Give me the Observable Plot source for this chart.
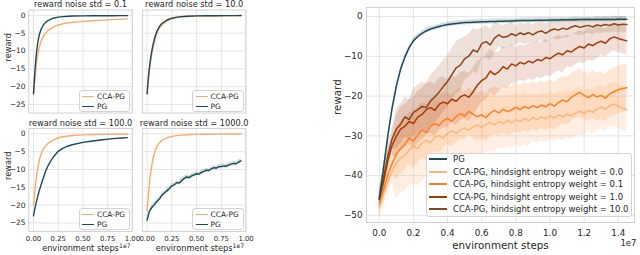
<!DOCTYPE html>
<html>
<head>
<meta charset="utf-8">
<script src="https://cdn.jsdelivr.net/npm/d3@7"></script>
<script src="https://cdn.jsdelivr.net/npm/@observablehq/plot@0.6"></script>
<style>
html,body{margin:0;padding:0;background:#fff;}
#root{position:relative;width:640px;height:255px;overflow:hidden;font-family:"DejaVu Sans",sans-serif;color:#262626;}
.abs{position:absolute;}
.abs svg{overflow:visible;display:block;}
.legend{position:absolute;background:rgba(255,255,255,0.8);border:1px solid #d4d4d4;border-radius:3px;box-sizing:border-box;}
.legend .sw{position:absolute;height:0;border-top-style:solid;}
.legend .lb{position:absolute;white-space:nowrap;line-height:1;transform:translateY(-50%);color:#262626;}
</style>
</head>
<body>
<div id="root"></div>
<script>
// ---------------- data: small panels ----------------
const smallTitles = ["reward noise std = 0.1", "reward noise std = 10.0", "reward noise std = 100.0", "reward noise std = 1000.0"];
const smallXTicks = [0, 0.25, 0.5, 0.75, 1.0];
const smallYTicks = [0, -5, -10, -15, -20, -25];
const smallLegendLabels = ["CCA-PG", "PG"];

const smallSteps = [0, 0.01, 0.02, 0.03, 0.04, 0.05, 0.06, 0.08, 0.1, 0.125, 0.15, 0.2, 0.25, 0.3, 0.35, 0.4, 0.5, 0.6, 0.7, 0.8, 0.9, 0.95];

const pgStd01  = [-22, -17.5, -13.5, -10.5, -8.3, -6.6, -5.3, -3.7, -2.7, -1.9, -1.4, -0.8, -0.5, -0.35, -0.25, -0.2, -0.15, -0.12, -0.1, -0.1, -0.08, -0.08];
const ccaStd01 = [-22, -19, -16, -13.5, -11.5, -10, -8.8, -7, -5.8, -4.9, -4.2, -3.3, -2.7, -2.35, -2.1, -1.95, -1.7, -1.5, -1.35, -1.2, -1.05, -1.0];

const pgStd10  = [-22, -18.5, -15.5, -13.2, -11.2, -9.6, -8.2, -6, -4.4, -3.1, -2.3, -1.3, -0.8, -0.5, -0.35, -0.25, -0.15, -0.12, -0.1, -0.08, -0.07, -0.06];
const ccaStd10 = [-22, -19, -16.3, -14, -12, -10.4, -9, -6.8, -5, -3.6, -2.7, -1.6, -1, -0.65, -0.45, -0.32, -0.2, -0.15, -0.12, -0.1, -0.08, -0.07];

const pgStd100  = [-23, -21.5, -20.2, -19, -17.8, -16.8, -15.8, -14, -12.3, -10.3, -8.8, -6.5, -4.9, -4.0, -3.4, -3.0, -2.4, -2.0, -1.65, -1.35, -1.15, -1.05];
const ccaStd100 = [-20, -17, -14.3, -12, -10.2, -8.6, -7.2, -5.4, -4.2, -3.3, -2.6, -1.7, -1.1, -0.8, -0.6, -0.45, -0.3, -0.2, -0.15, -0.12, -0.1, -0.1];

const ccaStd1000 = [-21.5, -18, -15, -12.3, -10.2, -8.4, -6.9, -4.8, -3.5, -2.5, -1.8, -1.1, -0.7, -0.5, -0.35, -0.25, -0.15, -0.1, -0.08, -0.06, -0.05, -0.05];
const steps1000 = [0, 0.025, 0.05, 0.075, 0.1, 0.125, 0.15, 0.175, 0.2, 0.225,
                   0.25, 0.275, 0.3, 0.325, 0.35, 0.375, 0.4, 0.425, 0.45, 0.475,
                   0.5, 0.525, 0.55, 0.575, 0.6, 0.625, 0.65, 0.675, 0.7, 0.725,
                   0.75, 0.775, 0.8, 0.825, 0.85, 0.875, 0.9, 0.925, 0.95];
const pgStd1000 = [-24.2, -21.6, -20.6, -19.8, -18.9, -18.3, -17.2, -16.6, -16.0, -15.4,
                   -14.6, -14.3, -13.7, -13.8, -13.1, -12.5, -12.1, -12.3, -11.8, -11.5,
                   -11.2, -11.3, -10.8, -10.5, -10.2, -10.3, -9.8, -9.5, -9.6, -9.2,
                   -9.2, -9.0, -9.1, -8.7, -8.5, -8.3, -8.4, -7.9, -7.6];
const pgStd1000Spread = 0.6;

// ---------------- data: large panel ----------------
const bigXTicks = [0, 0.2, 0.4, 0.6, 0.8, 1.0, 1.2, 1.4];
const bigYTicks = [0, -10, -20, -30, -40, -50];
const bigLegendLabels = ["PG",
  "CCA-PG, hindsight entropy weight = 0.0",
  "CCA-PG, hindsight entropy weight = 0.1",
  "CCA-PG, hindsight entropy weight = 1.0",
  "CCA-PG, hindsight entropy weight = 10.0"];

const bigSteps = [0, 0.025, 0.05, 0.075, 0.1, 0.125, 0.15, 0.175, 0.2, 0.225,
                  0.25, 0.275, 0.3, 0.325, 0.35, 0.375, 0.4, 0.425, 0.45, 0.475,
                  0.5, 0.525, 0.55, 0.575, 0.6, 0.625, 0.65, 0.675, 0.7, 0.725,
                  0.75, 0.775, 0.8, 0.825, 0.85, 0.875, 0.9, 0.925, 0.95, 0.975,
                  1.0, 1.025, 1.05, 1.075, 1.1, 1.125, 1.15, 1.175, 1.2, 1.225,
                  1.25, 1.275, 1.3, 1.325, 1.35, 1.375, 1.4, 1.425, 1.45];

const bigPG = [-46, -38, -30, -23, -17.5, -13.2, -10.2, -7.8, -6.1, -5.0,
               -4.2, -3.6, -3.1, -2.8, -2.5, -2.2, -2.0, -1.85, -1.7, -1.6,
               -1.5, -1.45, -1.4, -1.35, -1.3, -1.3, -1.25, -1.2, -1.15, -1.15,
               -1.1, -1.1, -1.05, -1.0, -1.0, -0.95, -0.95, -0.9, -0.9, -0.9,
               -0.85, -0.85, -0.85, -0.8, -0.8, -0.8, -0.8, -0.75, -0.75, -0.75,
               -0.75, -0.7, -0.7, -0.7, -0.7, -0.7, -0.65, -0.65, -0.65];
const bigPGSpread = 0.6;

const bigW00 = [-48.0, -44.8, -41.6, -38.9, -36.8, -35.6, -34.9, -33.5, -32.6, -33.2,
                -31.8, -31.1, -31.7, -30.4, -29.9, -30.6, -29.3, -28.7, -29.4, -28.5,
                -28.0, -28.6, -27.7, -27.3, -27.9, -27.1, -26.6, -27.2, -26.4, -26.9,
                -26.1, -26.7, -25.9, -26.4, -25.6, -26.2, -25.4, -25.9, -25.2, -25.7,
                -24.9, -25.5, -24.7, -25.2, -24.5, -25.0, -24.3, -23.8, -24.4, -23.6,
                -24.1, -23.2, -22.7, -23.3, -22.4, -22.0, -22.6, -23.0, -23.4];
const bigW01 = [-47.0, -43.5, -39.8, -37.0, -34.6, -33.2, -32.1, -30.6, -31.3, -29.8,
                -28.5, -29.2, -27.6, -26.9, -27.4, -26.2, -25.6, -26.3, -25.1, -24.4,
                -25.0, -23.8, -24.6, -25.2, -24.7, -25.4, -24.3, -23.6, -24.2, -23.3,
                -23.9, -23.5, -22.8, -23.4, -22.6, -23.1, -22.4, -22.9, -22.2, -22.7,
                -21.9, -22.5, -21.6, -21.0, -21.4, -20.3, -19.6, -19.1, -19.8, -20.4,
                -19.6, -20.2, -19.8, -20.5, -19.4, -18.9, -18.4, -18.1, -17.9];
const bigW1 = [-46.0, -41.5, -36.3, -32.4, -30.1, -28.3, -27.6, -26.4, -26.9, -25.3,
               -24.6, -23.4, -22.9, -23.6, -22.1, -21.5, -21.9, -20.8, -21.3, -20.2,
               -19.7, -20.3, -18.9, -17.2, -16.1, -15.4, -13.7, -14.6, -13.9, -12.6,
               -13.2, -11.9, -12.4, -11.5, -11.9, -11.2, -11.6, -10.8, -11.1, -10.3,
               -10.6, -9.8, -9.2, -9.6, -8.6, -8.9, -8.1, -7.5, -7.9, -6.9,
               -7.3, -6.6, -6.2, -6.7, -5.6, -5.1, -5.5, -5.8, -6.1];
const bigW10 = [-45.5, -40.5, -35.0, -30.8, -28.3, -27.0, -25.2, -25.9, -24.1, -23.4,
                -22.6, -22.9, -21.3, -20.2, -19.0, -17.6, -16.3, -14.6, -12.9, -12.2,
                -10.6, -9.9, -8.4, -8.9, -6.8, -6.3, -7.1, -5.4, -4.6, -5.2,
                -5.0, -4.3, -4.8, -4.1, -4.5, -4.0, -4.6, -3.9, -3.6, -4.2,
                -3.5, -3.1, -3.4, -2.9, -3.2, -2.6, -2.3, -2.7, -2.4, -2.2,
                -2.6, -2.1, -2.3, -2.0, -2.2, -1.8, -2.1, -1.9, -2.0];

// band half-widths per 0.1e7 bin of environment steps
const spreadW00 = [3, 9, 9.5, 9, 8, 7.5, 7, 6.5, 6.5, 6, 6, 6, 5.5, 5.5, 5.5];
const spreadW01 = [2.5, 6.5, 7, 7, 6.5, 6, 6, 6, 6, 6, 6, 6, 6, 6, 6];
const spreadW1  = [2.5, 5.5, 6.5, 6.5, 6, 6, 5.5, 5, 4.5, 4.5, 4.5, 4, 4, 3.5, 3.5];
const spreadW10 = [2.5, 5, 6, 6.5, 6.5, 5.5, 4, 3, 2.5, 2.5, 2.5, 2.2, 2, 2, 2];

// ---------------- styles ----------------
const pgColor = "#1b4b57";
const ccaSmallColor = "#fcaa68";
const bigColors = ["#1b4b57", "#fdb57a", "#fd8024", "#a63a08", "#8c4418"];
const gridColor = "#e5e5e5";
const frameColor = "#d2d2d2";
const textColor = "#262626";
const fInt = d3.format("d");

const root = document.getElementById("root");
function place(node, left, top) {
  const d = document.createElement("div");
  d.className = "abs";
  d.style.left = left + "px";
  d.style.top = top + "px";
  d.appendChild(node);
  root.appendChild(d);
}
function toRows(xs, ys) { return xs.map((x, i) => ({x, y: ys[i]})); }

function smallPanel({col, row, title, pg, cca, pgX, pgSpread}) {
  const left = col === 0 ? 0 : 137;
  const top = row === 0 ? 0 : 117;
  const width = col === 0 ? 136 : 113;
  const height = row === 0 ? 117 : 138;
  const mL = col === 0 ? 28.3 : 4.9;
  const mR = width - mL - 103.4;
  const mT = row === 0 ? 9.5 : 11;
  const mB = height - mT - 103;
  const pgRows = toRows(pgX || smallSteps, pg);
  const ccaRows = toRows(smallSteps, cca);
  const marks = [
    Plot.gridX(smallXTicks, {stroke: gridColor, strokeOpacity: 1}),
    Plot.gridY(smallYTicks, {stroke: gridColor, strokeOpacity: 1}),
    Plot.frame({stroke: frameColor, strokeWidth: 1}),
  ];
  if (pgSpread) {
    marks.push(Plot.areaY(pgRows, {x: "x", y1: d => d.y - pgSpread, y2: d => d.y + pgSpread, fill: pgColor, fillOpacity: 0.18}));
  }
  marks.push(Plot.line(ccaRows, {x: "x", y: "y", stroke: ccaSmallColor, strokeWidth: 1.4}));
  marks.push(Plot.line(pgRows, {x: "x", y: "y", stroke: pgColor, strokeWidth: 1.4}));
  marks.push(Plot.text([title], {text: d => d, frameAnchor: "top", lineAnchor: "middle", dy: -5.6, fontSize: 8.2, fill: textColor}));
  if (col === 0) {
    marks.push(Plot.axisY(smallYTicks, {anchor: "left", tickSize: 0, tickPadding: 3.3, tickFormat: fInt, label: null, fill: textColor}));
    marks.push(Plot.text(["reward"], {text: d => d, frameAnchor: "left", lineAnchor: "middle", rotate: -90, dx: -20.5, fontSize: 8.2, fill: textColor}));
  }
  if (row === 1) {
    marks.push(Plot.axisX(smallXTicks, {anchor: "bottom", tickSize: 0, tickPadding: 5, tickFormat: d3.format(".2f"), label: null, fill: textColor, fontSize: 6.9}));
    marks.push(Plot.text(["environment steps"], {text: d => d, frameAnchor: "bottom", lineAnchor: "middle", dy: 17, fontSize: 8.2, fill: textColor}));
    marks.push(Plot.text(["1e7"], {text: d => d, frameAnchor: "bottom-right", lineAnchor: "middle", textAnchor: "end", dx: -1.5, dy: 15, fontSize: 6.2, fill: textColor}));
  }
  const svg = Plot.plot({
    width, height, marginLeft: mL, marginRight: mR, marginTop: mT, marginBottom: mB,
    x: {domain: [-0.0475, 0.9975], axis: null},
    y: {domain: [-27.4, 1.5], axis: null},
    style: {fontFamily: "DejaVu Sans, sans-serif", fontSize: "7.4px", background: "transparent", color: textColor, overflow: "visible"},
    marks
  });
  place(svg, left, top);
  legend({left: left + mL + 50.2, top: top + mT + 80, width: 51.5, height: 22,
    entries: [{label: smallLegendLabels[0], color: ccaSmallColor}, {label: smallLegendLabels[1], color: pgColor}],
    rowY0: 7.3, rowGap: 9.7, lineX0: 3.5, lineX1: 15.5, textX: 18.5, fontSize: 7.4, lineWidth: 1.8});
}

function legend({left, top, width, height, entries, rowY0, rowGap, lineX0, lineX1, textX, fontSize, lineWidth}) {
  const box = document.createElement("div");
  box.className = "legend";
  box.style.left = left + "px";
  box.style.top = top + "px";
  box.style.width = width + "px";
  box.style.height = height + "px";
  entries.forEach((e, i) => {
    const y = rowY0 + i * rowGap - 1;
    const sw = document.createElement("div");
    sw.className = "sw";
    sw.style.left = (lineX0 - 1) + "px";
    sw.style.width = (lineX1 - lineX0) + "px";
    sw.style.top = (y - lineWidth / 2) + "px";
    sw.style.borderTopWidth = lineWidth + "px";
    sw.style.borderTopColor = e.color;
    box.appendChild(sw);
    const lb = document.createElement("div");
    lb.className = "lb";
    lb.style.left = (textX - 1) + "px";
    lb.style.top = y + "px";
    lb.style.fontSize = fontSize + "px";
    lb.textContent = e.label;
    box.appendChild(lb);
  });
  root.appendChild(box);
}

smallPanel({col: 0, row: 0, title: smallTitles[0], pg: pgStd01, cca: ccaStd01});
smallPanel({col: 1, row: 0, title: smallTitles[1], pg: pgStd10, cca: ccaStd10});
smallPanel({col: 0, row: 1, title: smallTitles[2], pg: pgStd100, cca: ccaStd100});
smallPanel({col: 1, row: 1, title: smallTitles[3], pg: pgStd1000, cca: ccaStd1000, pgX: steps1000, pgSpread: pgStd1000Spread});

// ---------------- large panel ----------------
function binOf(x) { return Math.min(14, Math.floor(x / 0.1 + 1e-9)); }
function bandRows(xs, ys, spreads) {
  return xs.map((x, i) => {
    const s = Array.isArray(spreads) ? spreads[binOf(x)] : spreads;
    return {x, y: ys[i], lo: ys[i] - s, hi: ys[i] + s};
  });
}
const bigSeries = [
  {rows: bandRows(bigSteps, bigW00, spreadW00), color: bigColors[1], op: 0.22},
  {rows: bandRows(bigSteps, bigW01, spreadW01), color: bigColors[2], op: 0.18},
  {rows: bandRows(bigSteps, bigW1, spreadW1), color: bigColors[3], op: 0.16},
  {rows: bandRows(bigSteps, bigW10, spreadW10), color: bigColors[4], op: 0.16},
  {rows: bandRows(bigSteps, bigPG, bigPGSpread), color: bigColors[0], op: 0.18},
];
const bigMarks = [
  Plot.gridX(bigXTicks, {stroke: gridColor, strokeOpacity: 1}),
  Plot.gridY(bigYTicks, {stroke: gridColor, strokeOpacity: 1}),
];
bigSeries.forEach(s => bigMarks.push(Plot.areaY(s.rows, {x: "x", y1: "lo", y2: "hi", fill: s.color, fillOpacity: s.op, clip: true})));
bigSeries.forEach(s => bigMarks.push(Plot.line(s.rows, {x: "x", y: "y", stroke: s.color, strokeWidth: 1.5})));
bigMarks.push(
  Plot.frame({stroke: frameColor, strokeWidth: 1}),
  Plot.axisY(bigYTicks, {anchor: "left", tickSize: 0, tickPadding: 4, tickFormat: fInt, label: null, fill: textColor}),
  Plot.axisX(bigXTicks, {anchor: "bottom", tickSize: 0, tickPadding: 7, tickFormat: d3.format(".1f"), label: null, fill: textColor}),
  Plot.text(["reward"], {text: d => d, frameAnchor: "left", lineAnchor: "middle", rotate: -90, dx: -29, fontSize: 10.3, fill: textColor}),
  Plot.text(["environment steps"], {text: d => d, frameAnchor: "bottom", lineAnchor: "middle", dy: 23, fontSize: 10.3, fill: textColor}),
  Plot.text(["1e7"], {text: d => d, frameAnchor: "bottom-right", lineAnchor: "middle", textAnchor: "end", dx: 2, dy: 21, fontSize: 8.5, fill: textColor})
);
const bigSvg = Plot.plot({
  width: 320, height: 255, marginLeft: 46, marginRight: 6, marginTop: 7, marginBottom: 33,
  x: {domain: [-0.075, 1.495], axis: null},
  y: {domain: [-51.8, 2.3], axis: null},
  style: {fontFamily: "DejaVu Sans, sans-serif", fontSize: "8.8px", background: "transparent", color: textColor, overflow: "visible"},
  marks: bigMarks
});
place(bigSvg, 320, 0);

legend({left: 426, top: 152.5, width: 206, height: 64.5,
  entries: bigLegendLabels.map((label, i) => ({label, color: bigColors[i]})),
  rowY0: 6.5, rowGap: 12.5, lineX0: 3, lineX1: 21, textX: 27, fontSize: 8.5, lineWidth: 2});
</script>
</body>
</html>
